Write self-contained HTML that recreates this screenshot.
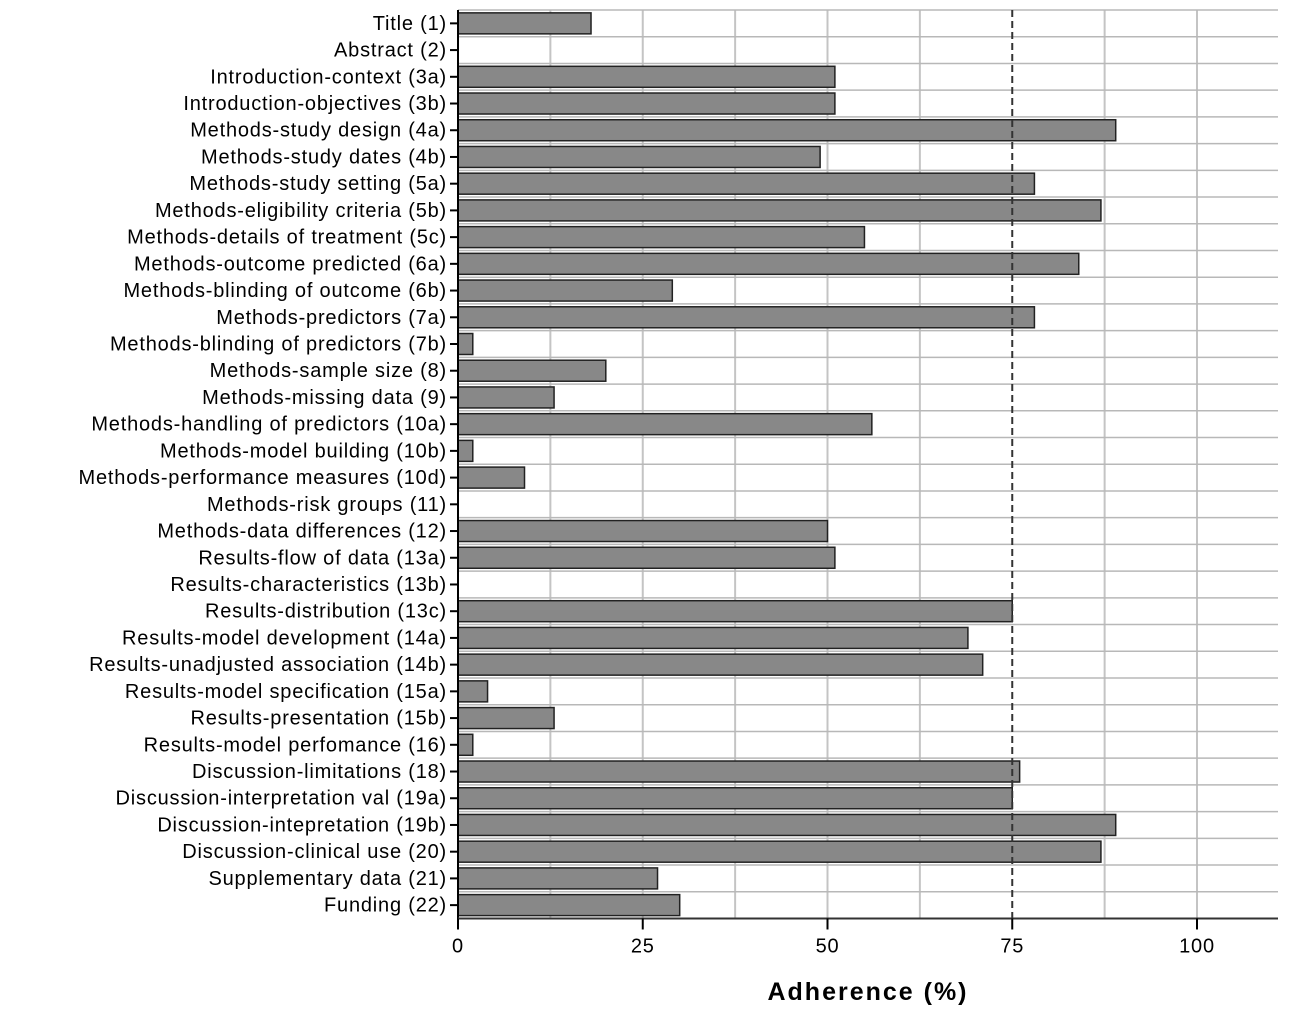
<!DOCTYPE html>
<html><head><meta charset="utf-8"><style>
body{margin:0;background:#fff;}
svg{display:block;font-family:"Liberation Sans",Arial,sans-serif;}
</style></head><body>
<svg id="chart" width="1295" height="1035"></svg>
<script>
const categories=["Title (1)","Abstract (2)","Introduction-context (3a)","Introduction-objectives (3b)","Methods-study design (4a)","Methods-study dates (4b)","Methods-study setting (5a)","Methods-eligibility criteria (5b)","Methods-details of treatment (5c)","Methods-outcome predicted (6a)","Methods-blinding of outcome (6b)","Methods-predictors (7a)","Methods-blinding of predictors (7b)","Methods-sample size (8)","Methods-missing data (9)","Methods-handling of predictors (10a)","Methods-model building (10b)","Methods-performance measures (10d)","Methods-risk groups (11)","Methods-data differences (12)","Results-flow of data (13a)","Results-characteristics (13b)","Results-distribution (13c)","Results-model development (14a)","Results-unadjusted association (14b)","Results-model specification (15a)","Results-presentation (15b)","Results-model perfomance (16)","Discussion-limitations (18)","Discussion-interpretation val (19a)","Discussion-intepretation (19b)","Discussion-clinical use (20)","Supplementary data (21)","Funding (22)"];
const values=[18,0,51,51,89,49,78,87,55,84,29,78,2,20,13,56,2,9,0,50,51,0,75,69,71,4,13,2,76,75,89,87,27,30];
const tickValues=[0,25,50,75,100];
const gridValues=[12.5,25,37.5,50,62.5,87.5,100,112.5];
const referenceValue=75;
const NS="http://www.w3.org/2000/svg";
const svg=document.getElementById('chart');
const x0=458,xRight=1278,pxPerUnit=7.39,yTop=10,rowH=26.72;
const xs=v=>x0+v*pxPerUnit;
const ys=i=>yTop+i*rowH;
function mk(t,a){const e=document.createElementNS(NS,t);for(const k in a)e.setAttribute(k,a[k]);svg.appendChild(e);return e;}
const yBottom=ys(categories.length);
gridValues.forEach(v=>{const x=xs(v);if(x>xRight)return;
const l=mk('line',{x1:x,x2:x,y1:yTop,y2:yBottom,stroke:'#c4c4c4','stroke-width':2});

});
for(let i=0;i<=categories.length;i++){const y=ys(i);
const l=mk('line',{x1:x0,x2:xRight,y1:y,y2:y,stroke:'#b8b8b8','stroke-width':1.5});

}
categories.forEach((c,i)=>{const yc=ys(i)+rowH/2;
if(values[i]>0){const r=mk('rect',{x:x0,y:yc-10.5,width:xs(values[i])-x0,height:21,fill:'#888888',stroke:'#222','stroke-width':1.5});

}
const tk=mk('line',{x1:x0-8,x2:x0,y1:yc,y2:yc,stroke:'#000','stroke-width':2});


const t=mk('text',{x:x0-11,y:yc+6.5,'text-anchor':'end','font-size':20,'letter-spacing':0.8,fill:'#000'});t.textContent=c;

});
const rx=xs(referenceValue);
const rl=mk('line',{x1:rx,x2:rx,y1:yTop,y2:yBottom,stroke:'#333','stroke-width':2,'stroke-dasharray':'7,4'});


const ya=mk('line',{x1:x0,x2:x0,y1:yTop,y2:yBottom,stroke:'#000','stroke-width':2});


const xa=mk('line',{x1:x0,x2:xRight,y1:yBottom,y2:yBottom,stroke:'#333','stroke-width':2});


tickValues.forEach(v=>{const x=xs(v);
const l=mk('line',{x1:x,x2:x,y1:yBottom,y2:yBottom+11,stroke:'#000','stroke-width':2});


const t=mk('text',{x:x,y:yBottom+34,'text-anchor':'middle','font-size':20,'letter-spacing':0.8,fill:'#000'});t.textContent=v;

});
const at=mk('text',{x:868,y:1000,'text-anchor':'middle','font-size':25,'font-weight':'bold','letter-spacing':2,fill:'#000'});at.textContent='Adherence (%)';


</script>
</body></html>
